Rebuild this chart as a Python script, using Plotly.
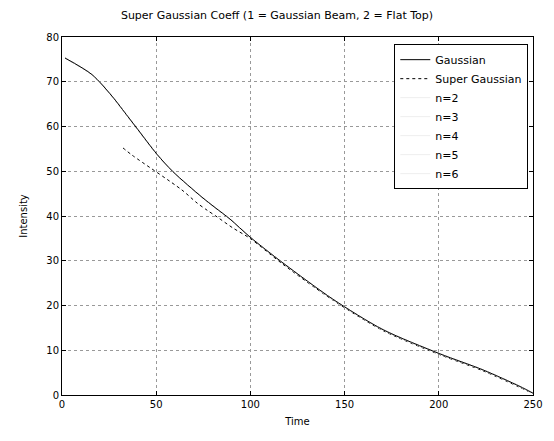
import plotly.graph_objects as go

# ---- data ----
x_main = [1.6, 15.9, 26.5, 35.0, 40.3, 50.4, 58.9, 74.3, 81.2, 89.2, 99.8,
          117.3, 143.8, 170.4, 200.6, 223.5, 243.1, 250.0]
y_main = [75.3, 71.6, 66.8, 62.2, 59.3, 53.8, 49.9, 44.2, 41.9, 39.3, 35.3,
          29.5, 21.4, 14.6, 9.2, 5.6, 1.9, 0.4]

x_fit = [32.4, 37.2, 63.7, 71.7, 77.0, 82.3, 90.8, 99.8,
         117.3, 143.8, 170.4, 200.6, 223.5, 243.1, 250.0]
y_fit = [55.2, 53.6, 45.8, 42.9, 41.3, 39.8, 37.3, 35.0,
         29.2, 21.2, 14.4, 9.0, 5.4, 1.7, 0.3]

series_names = ["Gaussian", "Super Gaussian", "n=2", "n=3", "n=4", "n=5", "n=6"]
x_ticks = [0, 50, 100, 150, 200, 250]
y_ticks = [0, 10, 20, 30, 40, 50, 60, 70, 80]

title_text = "Super Gaussian Coeff (1 = Gaussian Beam, 2 = Flat Top)"
x_label = "Time"
y_label = "Intensity"

fig = go.Figure()
fig.add_trace(go.Scatter(x=x_main, y=y_main, mode="lines", name=series_names[0],
                         line=dict(color="black", width=1, shape="spline", smoothing=0.8)))
fig.add_trace(go.Scatter(x=x_fit, y=y_fit, mode="lines", name=series_names[1],
                         line=dict(color="black", width=1, dash="dot", shape="spline", smoothing=0.8)))
for nm in series_names[2:]:
    fig.add_trace(go.Scatter(x=x_main, y=y_main, mode="lines", name=nm,
                             line=dict(color="#eeeeee", width=1, shape="spline", smoothing=0.8)))
# redraw main on top
fig.add_trace(go.Scatter(x=x_main, y=y_main, mode="lines", showlegend=False,
                         line=dict(color="black", width=1, shape="spline", smoothing=0.8),
                         hoverinfo="skip"))

axis_common = dict(showline=True, linecolor="black", linewidth=1, mirror="ticks",
                   ticks="inside", ticklen=4, tickcolor="black",
                   showgrid=True, gridcolor="#999999", griddash="dot", gridwidth=1,
                   zeroline=False, tickfont=dict(size=10, color="black"))

fig.update_layout(
    width=554, height=441,
    margin=dict(l=62, r=21, t=37, b=46),
    paper_bgcolor="white", plot_bgcolor="white",
    font=dict(family="DejaVu Sans", size=10, color="black"),
    title=dict(text=title_text, x=0.5, xanchor="center", y=0.975, yanchor="top",
               font=dict(size=11, color="black")),
    xaxis=dict(range=[0, 250], tickvals=x_ticks,
               title=dict(text=x_label, font=dict(size=10), standoff=8), **axis_common),
    yaxis=dict(range=[0, 80], tickvals=y_ticks,
               title=dict(text=y_label, font=dict(size=10), standoff=16), **axis_common),
    legend=dict(x=0.99, xanchor="right", y=0.98, yanchor="top",
                bordercolor="black", borderwidth=1, bgcolor="white",
                font=dict(size=11), tracegroupgap=0, itemwidth=30),
    showlegend=True,
)

fig.write_html("out.html")
